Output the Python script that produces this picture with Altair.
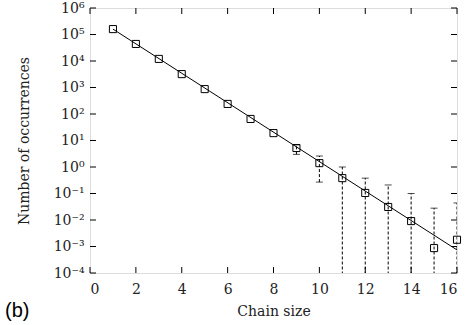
import altair as alt
import pandas as pd

# data
chain_size = list(range(1, 17))
occurrences = [1.6e5, 4.4e4, 1.2e4, 3.2e3, 870, 240, 65, 19, 5.2, 1.4,
               0.38, 0.105, 0.031, 0.0091, 8.7e-4, 1.8e-3]
err_x = [9, 10, 11, 12, 13, 14, 15, 16]
err_upper = [6.8, 2.6, 1.0, 0.38, 0.21, 0.10, 0.028, 0.044]
err_lower = [3.0, 0.27, 1e-5, 1e-5, 1e-5, 1e-5, 1e-5, 1e-5]
fit_x = [1, 16]
fit_y = [1.6e5, 7.4e-4]
x_ticks = [0, 2, 4, 6, 8, 10, 12, 14, 16]
y_ticks = [1e-4, 1e-3, 1e-2, 1e-1, 1e0, 1e1, 1e2, 1e3, 1e4, 1e5, 1e6]
y_tick_labels = ["10⁻⁴", "10⁻³", "10⁻²", "10⁻¹", "10⁰", "10¹", "10²",
                 "10³", "10⁴", "10⁵", "10⁶"]

W, H = 367, 265
FONT = "DejaVu Serif"

pts = pd.DataFrame({"x": chain_size, "y": occurrences})
errs = pd.DataFrame({"x": err_x, "lo": err_lower, "hi": err_upper})
fit = pd.DataFrame({"x": fit_x, "y": fit_y})
xt = pd.DataFrame({"x": x_ticks})
yt = pd.DataFrame({"y": y_ticks})

label_expr = "[" + ",".join("'%s'" % s for s in y_tick_labels) + "][round(log(datum.value)/LN10)+4]"

xscale = alt.Scale(domain=[0, 16], nice=False, zero=False)
yscale = alt.Scale(type="log", domain=[1e-4, 1e6], nice=False)

xaxis = alt.Axis(values=x_ticks, title="Chain size", ticks=False, labelPadding=9,
                 labelFont=FONT, labelFontSize=14, titleFont=FONT, titleFontSize=14,
                 titleFontWeight="normal", domain=False, grid=False, titlePadding=8,
                 labelColor="#222", titleColor="#222")
yaxis = alt.Axis(values=y_ticks, title="Number of occurrences", ticks=False, labelPadding=6,
                 labelExpr=label_expr, labelFont=FONT, labelFontSize=14, titleFont=FONT,
                 titleFontSize=14, titleFontWeight="normal", domain=False, grid=False,
                 titlePadding=22, labelColor="#222", titleColor="#222")

fit_line = alt.Chart(fit).mark_line(color="black", strokeWidth=1, clip=True).encode(
    x=alt.X("x:Q", scale=xscale, axis=xaxis),
    y=alt.Y("y:Q", scale=yscale, axis=yaxis),
)

err_rules = alt.Chart(errs).mark_rule(color="black", strokeWidth=1, strokeDash=[3, 2], clip=True).encode(
    x="x:Q", y="lo:Q", y2="hi:Q")

caps_hi = alt.Chart(errs).mark_tick(color="black", size=7, thickness=1, orient="horizontal",
                                    strokeDash=[3, 2], clip=True).encode(x="x:Q", y="hi:Q")
caps_lo = alt.Chart(errs).mark_tick(color="black", size=7, thickness=1, orient="horizontal",
                                    strokeDash=[3, 2], clip=True).encode(x="x:Q", y="lo:Q")

squares = alt.Chart(pts).mark_point(shape="square", filled=False, color="black",
                                    size=50, strokeWidth=1, opacity=1).encode(x="x:Q", y="y:Q")

tick_b = alt.Chart(xt).mark_rule(color="black", strokeWidth=1).encode(
    x="x:Q", y=alt.value(H), y2=alt.value(H - 6))
tick_t = alt.Chart(xt).mark_rule(color="black", strokeWidth=1).encode(
    x="x:Q", y=alt.value(0), y2=alt.value(6))
tick_l = alt.Chart(yt).mark_rule(color="black", strokeWidth=1).encode(
    y="y:Q", x=alt.value(0), x2=alt.value(6))
tick_r = alt.Chart(yt).mark_rule(color="black", strokeWidth=1).encode(
    y="y:Q", x=alt.value(W), x2=alt.value(W - 6))

panel = alt.Chart(pd.DataFrame({"t": ["(b)"]})).mark_text(
    font="Liberation Sans", fontSize=20, align="left",
    baseline="alphabetic", color="black"
).encode(text="t:N", x=alt.value(-85), y=alt.value(309))

chart = alt.layer(fit_line, err_rules, caps_hi, caps_lo, squares,
                  tick_b, tick_t, tick_l, tick_r, panel).properties(
    width=W, height=H,
    autosize=alt.AutoSizeParams(type="none"),
    padding={"left": 90, "top": 8, "right": 16, "bottom": 52},
).configure_view(stroke="black", strokeWidth=1.2).configure(background="white")

chart.save("out.html", embed_options={"renderer": "svg", "actions": False})
